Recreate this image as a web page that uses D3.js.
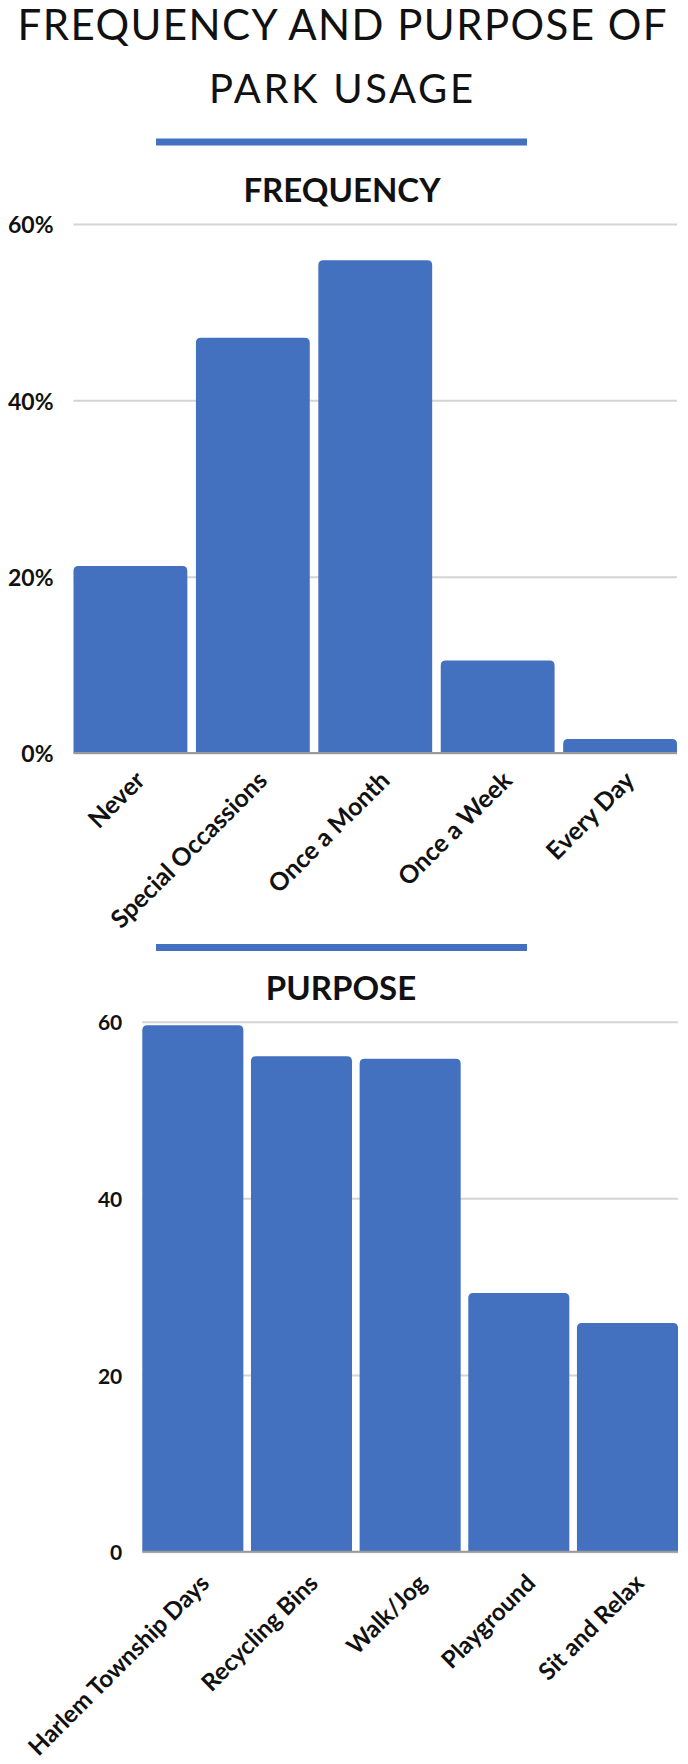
<!DOCTYPE html>
<html>
<head>
<meta charset="utf-8">
<script src="https://cdn.jsdelivr.net/npm/d3@7"></script>
<style>
  html, body { margin: 0; padding: 0; background: #fff; }
  svg { display: block; }
</style>
</head>
<body>
<svg id="chart" width="688" height="1764"></svg>
<script>
// Survey results: how often residents visit the park and what they use it for
const freqCategories = ["Never", "Special Occassions", "Once a Month", "Once a Week", "Every Day"];
const freqValues = [21.2, 47.1, 55.9, 10.5, 1.6];
const freqTicks = [0, 20, 40, 60];

const purposeCategories = ["Harlem Township Days", "Recycling Bins", "Walk/Jog", "Playground", "Sit and Relax"];
const purposeValues = [59.6, 56.1, 55.8, 29.3, 25.9];
const purposeTicks = [0, 20, 40, 60];

const BLUE = "#4370bf";
const GRID = "#d4d4d4";
const LABEL_FONT = "Lato, 'Open Sans', sans-serif";

const svg = d3.select("#chart");

// Main title, two lines, stretched to the page width
const title = svg.append("g")
  .attr("font-family", "Lato, 'Noto Sans', sans-serif")
  .attr("font-weight", 400)
  .attr("fill", "#111")
  .attr("text-anchor", "middle");
title.append("text").attr("x", 342).attr("y", 40).attr("font-size", 42)
  .attr("textLength", 649).attr("lengthAdjust", "spacing")
  .text("FREQUENCY AND PURPOSE OF");
title.append("text").attr("x", 341).attr("y", 103).attr("font-size", 40)
  .attr("textLength", 264).attr("lengthAdjust", "spacing")
  .text("PARK USAGE");

// Blue separator rules
function rule(y) {
  svg.append("rect").attr("x", 156).attr("y", y).attr("width", 371).attr("height", 7).attr("fill", BLUE);
}
rule(138.5);
rule(944);

// Rounded-top bar outline
function barPath(x, y, w, y0, r) {
  r = Math.min(r, w / 2, Math.max(0, y0 - y));
  return `M${x},${y0}V${y + r}Q${x},${y} ${x + r},${y}H${x + w - r}Q${x + w},${y} ${x + w},${y + r}V${y0}Z`;
}

function panel(cfg) {
  const g = svg.append("g");

  g.append("text")
    .attr("x", cfg.headX).attr("y", cfg.headY)
    .attr("text-anchor", "middle")
    .attr("font-family", LABEL_FONT).attr("font-weight", 700)
    .attr("font-size", 33).attr("fill", "#111")
    .text(cfg.heading);

  const x = d3.scaleBand().domain(cfg.categories).range([cfg.left, cfg.right])
    .paddingInner(0.07).paddingOuter(0);
  const y = d3.scaleLinear().domain([0, 60]).range([cfg.base, cfg.top]);

  // Gridlines and tick labels
  const axis = d3.axisLeft(y).tickValues(cfg.ticks).tickFormat(cfg.fmt)
    .tickSize(-(cfg.right - cfg.left)).tickPadding(20);
  const ax = g.append("g").attr("transform", `translate(${cfg.left},0)`).call(axis);
  ax.select(".domain").remove();
  ax.selectAll(".tick line").attr("stroke", GRID).attr("stroke-width", 2);
  ax.selectAll(".tick text")
    .attr("font-family", LABEL_FONT).attr("font-weight", 700)
    .attr("font-size", cfg.tickSize).attr("fill", "#111")
    .attr("dy", "0.38em");

  // Bars
  g.append("g").selectAll("path")
    .data(cfg.values)
    .join("path")
    .attr("d", (d, i) => barPath(x(cfg.categories[i]), y(d), x.bandwidth(), y(0), 5))
    .attr("fill", BLUE);

  // Baseline
  g.append("line")
    .attr("x1", cfg.left).attr("x2", cfg.right)
    .attr("y1", y(0)).attr("y2", y(0))
    .attr("stroke", "#9a9a9a").attr("stroke-width", 2);

  // Rotated category labels
  g.append("g").selectAll("text")
    .data(cfg.categories)
    .join("text")
    .attr("transform", d => `translate(${x(d) + x.bandwidth() / 2 + cfg.labelDx},${y(0) + cfg.labelDy}) rotate(-45)`)
    .attr("text-anchor", "end")
    .attr("font-family", LABEL_FONT).attr("font-weight", 700)
    .attr("font-size", cfg.labelSize).attr("fill", "#111")
    .text(d => d);
}

panel({
  heading: "FREQUENCY", headX: 342, headY: 202,
  categories: freqCategories, values: freqValues, ticks: freqTicks,
  fmt: d => d + "%",
  left: 73.5, right: 677, top: 224, base: 753,
  tickSize: 23, labelSize: 25, labelDx: 16, labelDy: 29
});

panel({
  heading: "PURPOSE", headX: 341, headY: 1000,
  categories: purposeCategories, values: purposeValues, ticks: purposeTicks,
  fmt: d => d,
  left: 142.3, right: 678, top: 1021.7, base: 1551.7,
  tickSize: 21, labelSize: 24, labelDx: 18, labelDy: 33
});
</script>
</body>
</html>
